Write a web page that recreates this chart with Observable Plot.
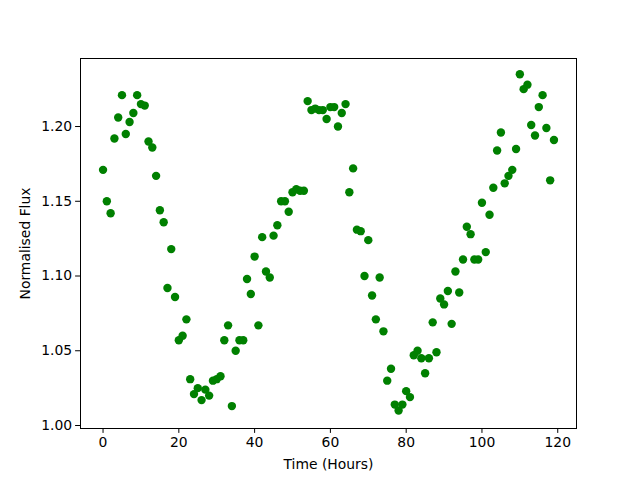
<!DOCTYPE html>
<html>
<head>
<meta charset="utf-8">
<script src="https://cdn.jsdelivr.net/npm/d3@7"></script>
<script src="https://cdn.jsdelivr.net/npm/@observablehq/plot@0.6"></script>
<style>
  html, body { margin: 0; padding: 0; background: #fff; }
  svg { display: block; }
</style>
</head>
<body>
<div id="chart"></div>
<script>
const hours = [
  0,1,2,3,4,5,6,7,8,9,10,11,12,13,14,15,16,17,18,19,
  20,21,22,23,24,25,26,27,28,29,30,31,32,33,34,35,36,37,38,39,
  40,41,42,43,44,45,46,47,48,49,50,51,52,53,54,55,56,57,58,59,
  60,61,62,63,64,65,66,67,68,69,70,71,72,73,74,75,76,77,78,79,
  80,81,82,83,84,85,86,87,88,89,90,91,92,93,94,95,96,97,98,99,
  100,101,102,103,104,105,106,107,108,109,110,111,112,113,114,115,116,117,118,119
];
const flux = [
  1.171,1.150,1.142,1.192,1.206,1.221,1.195,1.203,1.209,1.221,
  1.215,1.214,1.190,1.186,1.167,1.144,1.136,1.092,1.118,1.086,
  1.057,1.060,1.071,1.031,1.021,1.025,1.017,1.024,1.020,1.030,
  1.031,1.033,1.057,1.067,1.013,1.050,1.057,1.057,1.098,1.088,
  1.113,1.067,1.126,1.103,1.099,1.127,1.134,1.150,1.150,1.143,
  1.156,1.158,1.157,1.157,1.217,1.211,1.212,1.211,1.211,1.205,
  1.213,1.213,1.200,1.209,1.215,1.156,1.172,1.131,1.130,1.100,
  1.124,1.087,1.071,1.099,1.063,1.030,1.038,1.014,1.010,1.014,
  1.023,1.019,1.047,1.050,1.045,1.035,1.045,1.069,1.049,1.085,
  1.081,1.090,1.068,1.103,1.089,1.111,1.133,1.128,1.111,1.111,
  1.149,1.116,1.141,1.159,1.184,1.196,1.162,1.167,1.171,1.185,
  1.235,1.225,1.228,1.201,1.194,1.213,1.221,1.199,1.164,1.191
];
const xTicks = [0, 20, 40, 60, 80, 100, 120];
const yTicks = [1.00, 1.05, 1.10, 1.15, 1.20];

const data = hours.map((h, i) => ({hour: h, flux: flux[i]}));

const chart = Plot.plot({
  width: 640,
  height: 480,
  marginLeft: 80,
  marginRight: 64,
  marginTop: 58,
  marginBottom: 52,
  style: {fontFamily: "DejaVu Sans", fontSize: "13.9px", color: "#000", background: "#fff"},
  x: {domain: [-5.95, 124.95], ticks: xTicks, tickFormat: d => String(d),
      label: "Time (Hours)", labelAnchor: "center", labelArrow: "none"},
  y: {domain: [0.998, 1.2455], ticks: yTicks, tickFormat: d => d.toFixed(2),
      label: "Normalised Flux", labelAnchor: "center", labelArrow: "none"},
  marks: [
    Plot.axisX({ticks: xTicks, tickFormat: d => String(d), tickSize: 4.9, tickPadding: 3.5,
      label: "Time (Hours)", labelAnchor: "center", labelArrow: "none", labelOffset: 40, fontSize: 13.9}),
    Plot.axisY({ticks: yTicks, tickFormat: d => d.toFixed(2), tickSize: 4.9, tickPadding: 3.5,
      label: "Normalised Flux", labelAnchor: "center", labelArrow: "none", labelOffset: 60, fontSize: 13.9}),
    Plot.dot(data, {x: "hour", y: "flux", r: 4.2, fill: "green", stroke: "none"}),
    Plot.frame({stroke: "#000", strokeWidth: 1})
  ]
});
document.getElementById("chart").appendChild(chart);
</script>
</body>
</html>
